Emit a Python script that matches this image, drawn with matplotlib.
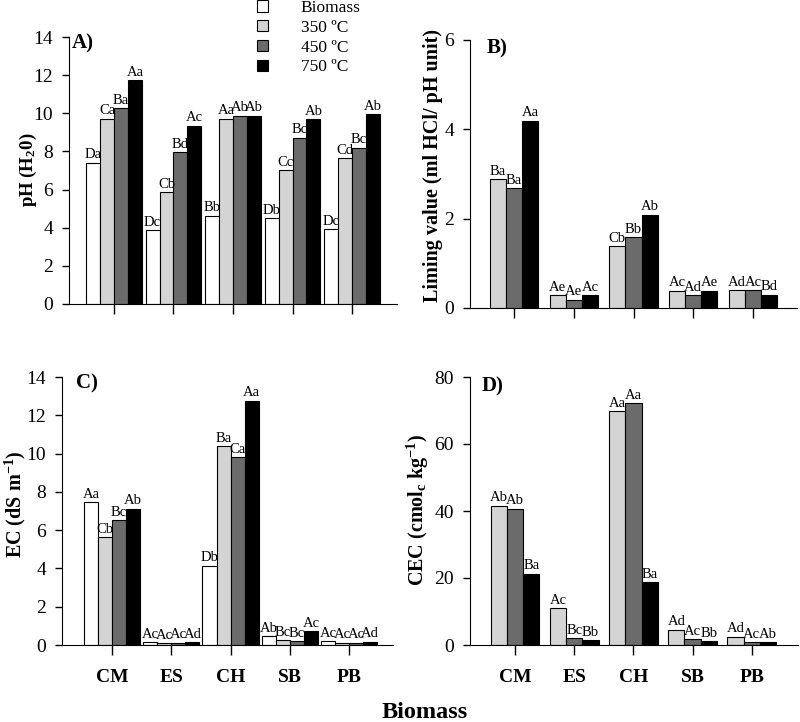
import matplotlib
matplotlib.use("Agg")
import matplotlib.pyplot as plt
import numpy as np

plt.rcParams['font.family'] = ['Liberation Serif', 'DejaVu Serif']
plt.rcParams['mathtext.fontset'] = 'custom'
plt.rcParams['mathtext.rm'] = 'Liberation Serif'
plt.rcParams['mathtext.bf'] = 'Liberation Serif:bold'
plt.rcParams['mathtext.default'] = 'bf'

# data
cats = ['CM', 'ES', 'CH', 'SB', 'PB']
series = ['Biomass', '350 ºC', '450 ºC', '750 ºC']
colors = ['white', '#d4d4d4', '#6b6b6b', 'black']

ph_biomass = [7.41, 3.88, 4.63, 4.49, 3.93]
ph_350 = [9.72, 5.87, 9.72, 7.03, 7.66]
ph_450 = [10.28, 7.97, 9.88, 8.71, 8.20]
ph_750 = [11.75, 9.34, 9.88, 9.70, 9.95]
ph_let = [['Da', 'Dc', 'Bb', 'Db', 'Dc'],
          ['Ca', 'Cb', 'Aa', 'Cc', 'Cd'],
          ['Ba', 'Bd', 'Ab', 'Bc', 'Bc'],
          ['Aa', 'Ac', 'Ab', 'Ab', 'Ab']]

lim_350 = [2.88, 0.29, 1.39, 0.39, 0.40]
lim_450 = [2.68, 0.19, 1.59, 0.29, 0.40]
lim_750 = [4.19, 0.29, 2.09, 0.39, 0.30]
lim_let = [['Ba', 'Ae', 'Cb', 'Ac', 'Ad'],
           ['Ba', 'Ae', 'Bb', 'Ad', 'Ac'],
           ['Aa', 'Ac', 'Ab', 'Ae', 'Bd']]

ec_biomass = [7.46, 0.14, 4.15, 0.45, 0.19]
ec_350 = [5.63, 0.09, 10.39, 0.24, 0.12]
ec_450 = [6.52, 0.12, 9.81, 0.21, 0.12]
ec_750 = [7.13, 0.16, 12.76, 0.71, 0.17]
ec_let = [['Aa', 'Ac', 'Db', 'Ab', 'Ac'],
          ['Cb', 'Ac', 'Ba', 'Bc', 'Ac'],
          ['Bc', 'Ac', 'Ca', 'Bc', 'Ac'],
          ['Ab', 'Ad', 'Aa', 'Ac', 'Ad']]

cec_350 = [41.6, 10.9, 69.8, 4.6, 2.5]
cec_450 = [40.7, 2.1, 72.1, 1.8, 0.8]
cec_750 = [21.3, 1.4, 18.8, 1.2, 0.8]
cec_let = [['Ab', 'Ac', 'Aa', 'Ad', 'Ad'],
           ['Ab', 'Bc', 'Aa', 'Ac', 'Ac'],
           ['Ba', 'Bb', 'Ba', 'Bb', 'Ab']]

W, H = 800, 722
fig = plt.figure(figsize=(W / 100, H / 100), dpi=100)


def rect(left, right, y0, ytop):
    return [left / W, 1 - y0 / H, (right - left) / W, (y0 - ytop) / H]


def panel(r, xlim, ylim, yticks, vals, lets, cols, width, show_cats):
    ax = fig.add_axes(r)
    x = np.arange(len(cats))
    n = len(vals)
    bars = []
    for k in range(n):
        xs = x + (k - (n - 1) / 2) * width
        b = ax.bar(xs, vals[k], width, color=cols[k], edgecolor='black', linewidth=0.8)
        bars.append(b)
        for xi, v, t in zip(xs, vals[k], lets[k]):
            ax.annotate(t, (xi, v), xytext=(0, 1), textcoords='offset points',
                        ha='center', va='bottom', fontsize=10.5)
    ax.set_xlim(xlim)
    ax.set_ylim(ylim)
    ax.set_yticks(yticks)
    ax.set_xticks(x)
    if show_cats:
        ax.set_xticklabels(cats, fontweight='bold', fontsize=14)
    else:
        ax.set_xticklabels([])
    for s in ['top', 'right']:
        ax.spines[s].set_visible(False)
    ax.tick_params(axis='y', direction='out', length=5, width=1, labelsize=14, pad=6.5)
    ax.tick_params(axis='x', direction='out', length=7, width=1, pad=10)
    return ax, bars


axA, barsA = panel(rect(69, 397, 304, 37), (-0.756, 4.756), (0, 14), range(0, 15, 2),
                   [ph_biomass, ph_350, ph_450, ph_750], ph_let, colors, 0.235, False)
axB, barsB = panel(rect(470, 797, 308, 40), (-0.736, 4.736), (0, 6), range(0, 7, 2),
                   [lim_350, lim_450, lim_750], lim_let, colors[1:], 0.27, False)
axC, barsC = panel(rect(62, 393, 645, 377), (-0.844, 4.74), (0, 14), range(0, 15, 2),
                   [ec_biomass, ec_350, ec_450, ec_750], ec_let, colors, 0.237, True)
axD, barsD = panel(rect(470, 798, 645, 377), (-0.76, 4.78), (0, 80), range(0, 81, 20),
                   [cec_350, cec_450, cec_750], cec_let, colors[1:], 0.275, True)

# y labels
fig.text(28 / W, 1 - 170 / H, 'pH (H$_2$0)', rotation=90, ha='center', va='center',
         fontsize=13.5, fontweight='bold')
fig.text(433 / W, 1 - 166 / H, 'Liming value (ml HCl/ pH unit)', rotation=90,
         ha='center', va='center', fontsize=14.5, fontweight='bold')
fig.text(15 / W, 1 - 504 / H, 'EC (dS m$^{-1}$)', rotation=90, ha='center', va='center',
         fontsize=14.5, fontweight='bold')
fig.text(418 / W, 1 - 510 / H, 'CEC (cmol$_c$ kg$^{-1}$)', rotation=90, ha='center',
         va='center', fontsize=14.5, fontweight='bold')

# panel tags
for tag, px, py in [('A)', 72, 43), ('B)', 487, 48), ('C)', 76, 383), ('D)', 482, 386)]:
    fig.text(px / W, 1 - py / H, tag, ha='left', va='center', fontsize=15, fontweight='bold')

fig.text(425 / W, 1 - 712 / H, 'Biomass', ha='center', va='center', fontsize=17.5,
         fontweight='bold')

fig.legend([b[0] for b in barsA], series, loc='upper left',
           bbox_to_anchor=(257 / W, 1.0), frameon=False, fontsize=12.5,
           handlelength=0.62, handleheight=0.62, handletextpad=1.9,
           labelspacing=0.22, borderpad=0, borderaxespad=0)

fig.savefig('out.png', dpi=100)
